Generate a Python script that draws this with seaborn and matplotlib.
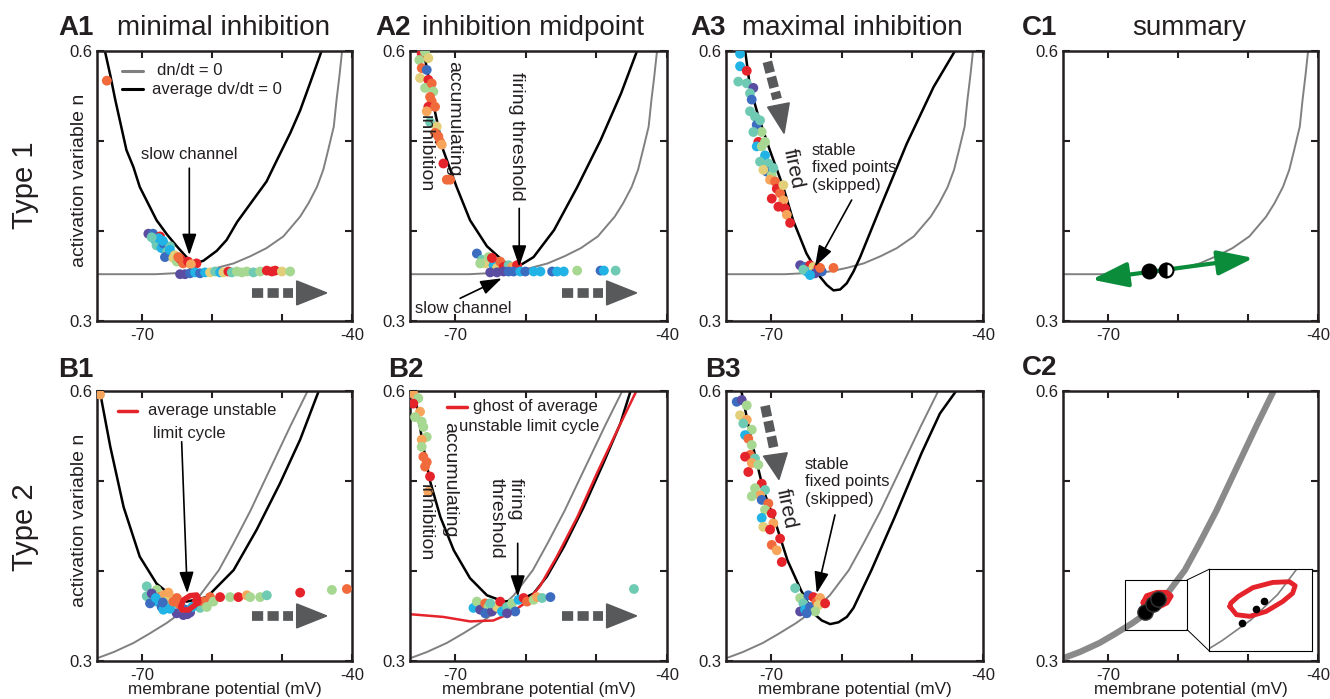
import numpy as np
import pandas as pd
import seaborn as sns
import matplotlib.pyplot as plt
from matplotlib.patches import Polygon, Rectangle, ConnectionPatch

sns.set_style('ticks')
plt.rcParams['font.family'] = ['Liberation Sans', 'DejaVu Sans']

TXT = '#231f20'
GREY = '#808080'
ARROW_GREY = '#58595b'
RED = '#e5232b'
GREEN = '#0b8c3b'

# colour classes of the trial dots (purple -> red)
pal = {0: '#5a4da1', 1: '#3c6cc0', 2: '#21b3e5', 3: '#6fcab3', 4: '#a6d891',
       5: '#e3cf7a', 6: '#f7a55b', 7: '#f06a3c', 8: '#e5232b'}

# ---- nullclines ----
# type 1 dn/dt = 0
gray1_v = [-76.4, -68.0, -63.0, -61.7, -59.3, -56.9, -54.5, -52.2, -49.8, -47.4, -46.2, -45.0,
           -44.1, -43.4, -42.6, -42.2, -41.8, -41.4]
gray1_n = [0.352, 0.352, 0.354, 0.355, 0.359, 0.364, 0.372, 0.381, 0.394, 0.416, 0.431, 0.449,
           0.468, 0.490, 0.516, 0.546, 0.572, 0.601]
# type 2 dn/dt = 0
gray2_v = [-76.4, -74.0, -71.2, -69.0, -66.5, -64.0, -61.7, -59.0, -56.9, -54.5, -52.2, -50.5, -48.8, -46.4]
gray2_n = [0.303, 0.310, 0.320, 0.330, 0.342, 0.356, 0.373, 0.401, 0.431, 0.467, 0.505, 0.533, 0.561, 0.599]

# average dv/dt = 0
black_a1_v = [-75.3, -74.5, -73.8, -72.2, -71.2, -70.3, -67.9, -66.4, -65.0, -63.4, -62.4, -61.2, -59.3,
              -57.9, -56.4, -52.2, -50.7, -48.8, -47.4, -46.0, -44.3]
black_a1_n = [0.601, 0.573, 0.546, 0.490, 0.471, 0.449, 0.412, 0.396, 0.383, 0.369, 0.364, 0.367, 0.378,
              0.390, 0.410, 0.455, 0.479, 0.509, 0.534, 0.564, 0.601]
black_a2_v = [-74.5, -72.9, -71.7, -69.8, -67.9, -65.5, -63.1, -61.2, -58.9, -56.0, -52.7, -49.4, -46.5, -44.2]
black_a2_n = [0.601, 0.534, 0.490, 0.449, 0.412, 0.383, 0.366, 0.360, 0.371, 0.401, 0.449, 0.501, 0.553, 0.601]
black_a3_v = [-73.7, -73.0, -71.8, -70.2, -68.3, -66.9, -65.0, -63.07, -62.12, -61.18, -60.23, -59.29,
              -58.34, -57.4, -54.5, -50.8, -47.0, -43.9]
black_a3_n = [0.601, 0.560, 0.527, 0.490, 0.449, 0.412, 0.375, 0.349, 0.340, 0.334, 0.335, 0.342,
              0.355, 0.371, 0.427, 0.497, 0.560, 0.601]
black_b1_v = [-76.0, -74.5, -72.6, -70.3, -67.9, -65.5, -63.6, -60.7, -56.9, -53.6, -50.3, -47.4, -44.8]
black_b1_n = [0.600, 0.538, 0.471, 0.416, 0.386, 0.371, 0.366, 0.371, 0.401, 0.446, 0.497, 0.546, 0.599]
black_b2_v = [-75.7, -74.7, -73.6, -72.1, -70.2, -67.9, -65.5, -63.1, -60.8, -58.9, -57.0, -54.6, -51.8, -49.0, -46.6, -45.2]
black_b2_n = [0.597, 0.546, 0.501, 0.460, 0.423, 0.392, 0.373, 0.366, 0.368, 0.375, 0.394, 0.427, 0.471, 0.520, 0.564, 0.599]
black_b3_v = [-74.2, -72.7, -71.1, -69.2, -67.7, -65.8, -64.02, -62.83, -61.65, -60.47, -59.28, -58.34,
              -55.8, -52.5, -48.7, -46.1, -43.9]
black_b3_n = [0.599, 0.542, 0.490, 0.449, 0.412, 0.379, 0.353, 0.345, 0.341, 0.343, 0.349, 0.359,
              0.401, 0.460, 0.531, 0.575, 0.599]

# ghost of the average unstable limit cycle (B2)
ghost_v = [-76.4, -71.7, -67.9, -64.6, -62.2, -59.8, -58.0, -55.6, -52.7, -49.9, -47.0, -44.4]
ghost_n = [0.352, 0.349, 0.344, 0.345, 0.353, 0.366, 0.383, 0.416, 0.460, 0.509, 0.557, 0.599]

# average unstable limit cycle (B1) and summary cycle (C2 main view and C2 inset)
cyc_b1_v = [-64.44, -64.07, -63.11, -62.16, -61.93, -62.40, -63.36, -64.30, -64.44]
cyc_b1_n = [0.3603, 0.3678, 0.3726, 0.3733, 0.3697, 0.3622, 0.3567, 0.3567, 0.3603]
cyc_c2_v = [-64.93, -64.44, -63.01, -61.59, -61.01, -61.59, -63.01, -64.21, -64.93]
cyc_c2_n = [0.3648, 0.3722, 0.3759, 0.3759, 0.3722, 0.3648, 0.3592, 0.3592, 0.3648]
cyc_ins_v = [-65.83, -65.26, -64.12, -62.70, -61.26, -60.41, -60.19, -60.69, -62.13, -63.84, -65.12, -65.75, -65.83]
cyc_ins_n = [0.3649, 0.3594, 0.3583, 0.3616, 0.3683, 0.3738, 0.3789, 0.3816, 0.3811, 0.3776, 0.3716, 0.3672, 0.3649]

# fixed points in the summaries
fp_c1_v = [-64.1, -61.7]
fp_c1_n = [0.356, 0.357]
fp_c2_v = [-64.75, -63.57, -62.87]
fp_c2_n = [0.354, 0.3635, 0.3687]
green_v = [-72.3, -49.2]
green_n = [0.346, 0.370]

# ---- trial dots ----
a1_v = [-75.0, -69.07, -68.4, -67.4, -68.1, -67.9, -67.2, -66.9, -66.4, -65.97, -66.7, -65.5, -65.0, -64.5,
        -64.1, -63.4, -62.2, -67.6, -65.97, -68.6, -67.0, -66.0, -65.3, -64.8, -63.0,
        -64.54, -63.83, -63.11, -62.4, -61.69, -60.97, -60.26, -59.54, -58.83, -58.36, -57.64, -57.16,
        -56.44, -55.73, -55.01, -54.07, -53.11, -52.16, -51.44, -50.97, -50.01, -48.83]
a1_n = [0.567, 0.397, 0.397, 0.394, 0.390, 0.384, 0.381, 0.386, 0.377, 0.375, 0.371, 0.370, 0.366, 0.369,
        0.364, 0.366, 0.364, 0.392, 0.383, 0.393, 0.389, 0.379, 0.373, 0.371, 0.363,
        0.352, 0.352, 0.353, 0.354, 0.353, 0.354, 0.354, 0.355, 0.354, 0.354, 0.355, 0.354,
        0.355, 0.354, 0.355, 0.354, 0.355, 0.356, 0.355, 0.356, 0.355, 0.355]
a1_c = [7, 0, 1, 8, 2, 3, 2, 1, 3, 8, 1, 5, 4, 8,
        7, 8, 8, 2, 3, 3, 2, 2, 5, 7, 6,
        0, 0, 1, 2, 1, 2, 5, 3, 2, 5, 8, 3,
        4, 4, 4, 3, 4, 8, 8, 8, 5, 4]

a2_v = [-74.74, -74.27, -75.08, -73.8, -74.74, -74.03, -74.98, -73.8, -74.27, -73.32, -73.09, -73.56, -73.32,
        -73.8, -72.85, -74.03, -73.56, -72.61, -72.85, -72.38, -72.14, -71.9, -71.67, -71.19, -70.72,
        -66.93, -66.22, -65.75, -65.28, -64.57, -64.08, -63.62, -63.15, -62.44, -61.95, -61.24, -66.46, -64.8,
        -65.04, -64.08, -63.15, -62.44, -61.73, -60.78, -60.07, -58.89, -57.93, -56.27, -55.56, -54.62,
        -52.72, -49.41, -48.94, -47.28]
a2_n = [0.597, 0.599, 0.590, 0.592, 0.581, 0.579, 0.570, 0.568, 0.559, 0.564, 0.555, 0.549, 0.544,
        0.538, 0.538, 0.533, 0.521, 0.516, 0.509, 0.505, 0.499, 0.496, 0.475, 0.457, 0.457,
        0.375, 0.368, 0.364, 0.371, 0.362, 0.359, 0.366, 0.360, 0.362, 0.360, 0.362, 0.364, 0.370,
        0.354, 0.354, 0.355, 0.355, 0.355, 0.355, 0.355, 0.355, 0.355, 0.355, 0.355, 0.355,
        0.356, 0.356, 0.356, 0.356]
a2_c = [8, 4, 4, 5, 7, 1, 5, 8, 4, 7, 4, 7, 7,
        8, 7, 6, 3, 5, 7, 7, 7, 6, 8, 7, 7,
        1, 3, 5, 4, 2, 5, 7, 8, 3, 6, 8, 4, 8,
        0, 0, 0, 1, 1, 2, 1, 2, 2, 1, 2, 2,
        4, 1, 2, 3]

a3_v = [-74.41, -74.41, -73.46, -74.66, -73.46, -72.53, -73.0, -72.76, -73.0, -72.29, -72.05, -71.58,
        -71.34, -72.53, -71.82, -70.87, -72.05, -71.34, -70.87, -71.58, -70.4, -70.63, -71.11, -69.92,
        -69.69, -70.16, -69.45, -69.21, -68.74, -69.92, -68.27, -68.98, -68.03, -67.79, -67.32, -68.27,
        -65.9, -65.19, -64.49, -64.96, -65.44, -64.02, -63.31, -62.83, -63.78, -64.49, -61.18, -63.07]
a3_n = [0.597, 0.583, 0.578, 0.566, 0.564, 0.559, 0.553, 0.546, 0.533, 0.527, 0.518, 0.523,
        0.510, 0.510, 0.499, 0.499, 0.494, 0.494, 0.484, 0.477, 0.475, 0.466, 0.468, 0.462,
        0.470, 0.457, 0.455, 0.447, 0.442, 0.436, 0.434, 0.427, 0.425, 0.418, 0.409, 0.451,
        0.362, 0.360, 0.362, 0.355, 0.357, 0.360, 0.359, 0.355, 0.353, 0.351, 0.359, 0.359]
a3_c = [2, 2, 8, 3, 3, 0, 3, 1, 3, 3, 1, 3,
        4, 3, 8, 4, 2, 4, 2, 3, 3, 1, 5, 4,
        3, 6, 7, 8, 7, 8, 6, 8, 8, 6, 8, 5,
        0, 1, 8, 2, 3, 5, 8, 1, 0, 2, 7, 7]

b1_v = [-69.3, -67.87, -69.3, -68.59, -67.4, -66.93, -66.44, -67.87, -68.83, -67.17,
        -65.97, -65.73, -66.93, -65.03, -64.07, -63.11, -64.31, -61.69, -61.21, -60.26,
        -59.79, -58.83, -57.4, -56.21, -55.01, -54.54, -53.11, -52.16, -47.4, -42.87,
        -40.73, -75.97, -60.73, -62.16,
        -68.0, -67.0, -66.0, -65.5, -64.6, -63.8, -62.8, -66.2, -65.0, -63.5]
b1_n = [0.383, 0.379, 0.372, 0.375, 0.371, 0.373, 0.366, 0.366, 0.364, 0.360,
        0.371, 0.362, 0.357, 0.353, 0.351, 0.354, 0.359, 0.359, 0.366, 0.371,
        0.366, 0.371, 0.371, 0.371, 0.373, 0.371, 0.371, 0.373, 0.376, 0.379,
        0.380, 0.596, 0.360, 0.366,
        0.370, 0.365, 0.358, 0.366, 0.363, 0.357, 0.360, 0.376, 0.370, 0.352]
b1_c = [3, 4, 3, 0, 7, 6, 4, 2, 1, 1,
        5, 3, 2, 0, 0, 0, 1, 3, 7, 7,
        4, 8, 4, 8, 6, 4, 4, 3, 8, 4,
        7, 6, 4, 8,
        2, 1, 2, 7, 7, 1, 2, 6, 7, 0]

b2_v = [-75.93, -75.22, -75.93, -74.98, -75.69, -74.74, -74.51, -74.03, -74.74, -74.74, -74.51, -74.03,
        -74.27, -73.56, -73.8,
        -67.41, -66.93, -66.46, -65.75, -65.28, -65.75, -64.8, -64.08, -63.62, -63.38, -62.66, -61.95,
        -61.49, -61.02, -60.31, -59.82, -58.89, -58.4, -57.69, -56.51, -44.68, -62.66, -65.04]
b2_n = [0.597, 0.592, 0.586, 0.577, 0.571, 0.566, 0.560, 0.549, 0.546, 0.538, 0.527, 0.521,
        0.516, 0.505, 0.488,
        0.359, 0.366, 0.357, 0.364, 0.360, 0.353, 0.355, 0.360, 0.366, 0.355, 0.360, 0.364,
        0.355, 0.368, 0.370, 0.366, 0.368, 0.371, 0.370, 0.371, 0.380, 0.353, 0.364]
b2_c = [6, 4, 8, 6, 4, 4, 4, 4, 6, 4, 7, 7,
        7, 8, 6,
        2, 4, 0, 7, 4, 1, 0, 5, 8, 2, 3, 4,
        1, 2, 8, 7, 4, 6, 3, 1, 3, 0, 3]

b3_v = [-74.88, -74.17, -73.46, -74.41, -73.46, -73.95, -72.75, -73.7, -73.24, -72.75, -72.99,
        -73.7, -72.29, -72.75, -71.82, -73.24, -71.34, -72.29, -70.87, -71.58, -72.75, -71.34,
        -70.4, -70.87, -69.92, -71.34, -69.69, -71.11, -70.16, -68.74, -69.92, -69.21, -68.5,
        -66.61, -65.9, -65.44, -64.73, -65.9, -65.19, -64.49, -64.02, -63.54, -63.07, -63.31,
        -62.36, -63.78, -64.96]
b3_n = [0.588, 0.590, 0.584, 0.573, 0.568, 0.564, 0.557, 0.551, 0.547, 0.540, 0.529,
        0.527, 0.525, 0.520, 0.518, 0.510, 0.497, 0.492, 0.490, 0.484, 0.483, 0.479,
        0.475, 0.468, 0.464, 0.459, 0.453, 0.449, 0.446, 0.436, 0.429, 0.423, 0.410,
        0.381, 0.370, 0.364, 0.373, 0.355, 0.357, 0.360, 0.371, 0.366, 0.370, 0.362,
        0.364, 0.355, 0.353]
b3_c = [1, 0, 4, 5, 6, 3, 4, 2, 7, 4, 7,
        8, 3, 6, 4, 8, 8, 4, 3, 6, 4, 1,
        7, 4, 8, 2, 6, 5, 8, 8, 7, 6, 8,
        3, 4, 3, 1, 0, 2, 1, 8, 7, 6, 5,
        8, 4, 1]


def style_axes(ax):
    ax.set_xlim(-76.4, -40)
    ax.set_ylim(0.3, 0.6)
    ax.set_xticks([-70, -60, -50, -40])
    ax.set_xticklabels(['-70', '', '', '-40'])
    ax.set_yticks([0.3, 0.4, 0.5, 0.6])
    ax.set_yticklabels(['0.3', '', '', '0.6'])
    ax.tick_params(direction='in', top=True, right=True, length=5, width=1.5,
                   labelsize=12, pad=3, colors=TXT)
    ax.tick_params(axis='x', pad=5)
    for s in ax.spines.values():
        s.set_linewidth(1.8)
        s.set_color(TXT)
    ax.set_xlabel('')
    ax.set_ylabel('')


def curve(ax, v, n, color, lw, z=2):
    sns.lineplot(x=v, y=n, sort=False, estimator=None, color=color, lw=lw, ax=ax, zorder=z)


def dots(ax, v, n, c):
    df = pd.DataFrame({'v': v, 'n': n, 'c': c})
    sns.scatterplot(data=df, x='v', y='n', hue='c', palette=pal, s=50, linewidth=0,
                    legend=False, ax=ax, zorder=3)


def dash_arrow(ax, tail, dash_end, base, tip, hw=12, w=256, h=270):
    ax.plot([tail[0], dash_end[0]], [tail[1], dash_end[1]], transform=ax.transAxes,
            color=ARROW_GREY, lw=7, linestyle=(0, (1.15, 0.45)), solid_capstyle='butt', zorder=5)
    dx = (tip[0] - base[0]) * w
    dy = (tip[1] - base[1]) * h
    L = np.hypot(dx, dy)
    px, py = -dy / L, dx / L
    p1 = (base[0] + px * hw / w, base[1] + py * hw / h)
    p2 = (base[0] - px * hw / w, base[1] - py * hw / h)
    ax.add_patch(Polygon([p1, tip, p2], closed=True, transform=ax.transAxes,
                         color=ARROW_GREY, zorder=5, clip_on=False))


def pointer(ax, start, tip):
    ax.annotate('', xy=tip, xytext=start, xycoords='axes fraction', textcoords='axes fraction',
                arrowprops=dict(arrowstyle='-|>,head_length=0.65,head_width=0.22', mutation_scale=20,
                                color='black', lw=1.2, shrinkA=0, shrinkB=0), zorder=7)


def note(ax, x, y, s, **kw):
    kw.setdefault('fontsize', 12)
    ax.text(x, y, s, transform=ax.transAxes, color=TXT, **kw)


def panel_label(ax, lab, title, xl, xt, y, ha='left'):
    ax.text(xl, y, lab, transform=ax.transAxes, fontsize=20, fontweight='bold', color=TXT,
            ha='left', va='baseline')
    if title:
        ax.text(xt, y, title, transform=ax.transAxes, fontsize=20, color=TXT, ha=ha, va='baseline')


fig = plt.figure(figsize=(13.3, 6.99), dpi=100)
cols_px = [(97, 352), (410, 667), (726, 983), (1063, 1318)]
rows_px = [(51, 321), (391, 661)]
axes = {}
for r, (t, b) in enumerate(rows_px):
    for c, (l, rr) in enumerate(cols_px):
        axes[(r, c)] = fig.add_axes([l / 1330, 1 - b / 699, (rr - l) / 1330, (b - t) / 699])

# ---------------- A1 ----------------
ax = axes[(0, 0)]
curve(ax, gray1_v, gray1_n, GREY, 1.4)
curve(ax, black_a1_v, black_a1_n, 'black', 1.8)
dots(ax, a1_v, a1_n, a1_c)
style_axes(ax)
ax.plot([0.097, 0.181], [0.926, 0.926], transform=ax.transAxes, color=GREY, lw=2.2)
ax.plot([0.097, 0.181], [0.859, 0.859], transform=ax.transAxes, color='black', lw=2.2)
note(ax, 0.235, 0.926, 'dn/dt = 0', va='center')
note(ax, 0.216, 0.859, 'average dv/dt = 0', va='center')
note(ax, 0.361, 0.615, 'slow channel', ha='center', va='center')
pointer(ax, (0.362, 0.566), (0.362, 0.244))
dash_arrow(ax, (0.608, 0.104), (0.770, 0.104), (0.783, 0.104), (0.901, 0.104))
panel_label(ax, 'A1', 'minimal inhibition', -0.153, 0.078, 1.059)
ax.set_ylabel('activation variable n', fontsize=14, color=TXT)
ax.yaxis.set_label_coords(-0.035, 0.52)

# ---------------- A2 ----------------
ax = axes[(0, 1)]
curve(ax, gray1_v, gray1_n, GREY, 1.4)
curve(ax, black_a2_v, black_a2_n, 'black', 1.8)
dots(ax, a2_v, a2_n, a2_c)
style_axes(ax)
note(ax, 0.168, 0.748, 'accumulating', rotation=-90, ha='center', va='center', fontsize=14)
note(ax, 0.058, 0.619, 'inhibition', rotation=-90, ha='center', va='center', fontsize=14)
note(ax, 0.415, 0.684, 'firing threshold', rotation=-90, ha='center', va='center', fontsize=14)
pointer(ax, (0.425, 0.417), (0.425, 0.201))
note(ax, 0.207, 0.047, 'slow channel', ha='center', va='center')
pointer(ax, (0.195, 0.084), (0.357, 0.158))
dash_arrow(ax, (0.590, 0.104), (0.752, 0.104), (0.765, 0.104), (0.882, 0.104))
panel_label(ax, 'A2', 'inhibition midpoint', -0.136, 0.046, 1.059)

# ---------------- A3 ----------------
ax = axes[(0, 2)]
curve(ax, gray1_v, gray1_n, GREY, 1.4)
curve(ax, black_a3_v, black_a3_n, 'black', 1.8)
dots(ax, a3_v, a3_n, a3_c)
style_axes(ax)
dash_arrow(ax, (0.161, 0.96), (0.199, 0.822), (0.204, 0.80), (0.226, 0.695), hw=11)
note(ax, 0.262, 0.563, 'fired', rotation=-78, ha='center', va='center', fontsize=15,
     rotation_mode='anchor')
note(ax, 0.334, 0.567, 'stable\nfixed points\n(skipped)', ha='left', va='center')
pointer(ax, (0.489, 0.448), (0.346, 0.201))
panel_label(ax, 'A3', 'maximal inhibition', -0.140, 0.061, 1.059)

# ---------------- C1 ----------------
ax = axes[(0, 3)]
curve(ax, gray1_v, gray1_n, GREY, 1.4)
style_axes(ax)
ax.annotate('', xy=(green_v[1], green_n[1]), xytext=(green_v[0], green_n[0]),
            arrowprops=dict(arrowstyle='<|-|>,head_length=1.1,head_width=0.38', mutation_scale=20,
                            color=GREEN, lw=3.0, shrinkA=0, shrinkB=0), zorder=4)
ax.plot(fp_c1_v[0], fp_c1_n[0], 'o', color='black', markersize=10, mec='black', mew=1.5, zorder=6)
ax.plot(fp_c1_v[1], fp_c1_n[1], 'o', fillstyle='left', markerfacecolor='black',
        markerfacecoloralt='white', mec='black', markersize=10, mew=1.5, zorder=6)
panel_label(ax, 'C1', None, -0.162, 0.0, 1.059)
ax.text(0.494, 1.059, 'summary', transform=ax.transAxes, fontsize=20, color=TXT,
        ha='center', va='baseline')

# ---------------- B1 ----------------
ax = axes[(1, 0)]
curve(ax, gray2_v, gray2_n, GREY, 1.4)
curve(ax, black_b1_v, black_b1_n, 'black', 1.8)
dots(ax, b1_v, b1_n, b1_c)
curve(ax, cyc_b1_v, cyc_b1_n, RED, 4.0, z=4)
style_axes(ax)
ax.plot([0.082, 0.157], [0.926, 0.926], transform=ax.transAxes, color=RED, lw=2.5)
note(ax, 0.201, 0.926, 'average unstable', va='center')
note(ax, 0.218, 0.843, 'limit cycle', va='center')
pointer(ax, (0.332, 0.812), (0.354, 0.251))
dash_arrow(ax, (0.608, 0.167), (0.770, 0.167), (0.783, 0.167), (0.901, 0.167))
panel_label(ax, 'B1', None, -0.153, 0.0, 1.053)
ax.set_ylabel('activation variable n', fontsize=14, color=TXT)
ax.yaxis.set_label_coords(-0.035, 0.52)

# ---------------- B2 ----------------
ax = axes[(1, 1)]
curve(ax, gray2_v, gray2_n, GREY, 1.4)
curve(ax, black_b2_v, black_b2_n, 'black', 1.8)
curve(ax, ghost_v, ghost_n, RED, 1.8)
dots(ax, b2_v, b2_n, b2_c)
style_axes(ax)
ax.plot([0.145, 0.220], [0.942, 0.942], transform=ax.transAxes, color=RED, lw=2.5)
note(ax, 0.246, 0.942, 'ghost of average', va='center')
note(ax, 0.192, 0.868, 'unstable limit cycle', va='center')
note(ax, 0.156, 0.670, 'accumulating', rotation=-90, ha='center', va='center', fontsize=14)
note(ax, 0.058, 0.511, 'inhibition', rotation=-90, ha='center', va='center', fontsize=14)
note(ax, 0.373, 0.677, 'firing\nthreshold', rotation=-90, ha='left', va='center', fontsize=14,
     rotation_mode='anchor', multialignment='left')
pointer(ax, (0.419, 0.436), (0.419, 0.238))
dash_arrow(ax, (0.590, 0.167), (0.752, 0.167), (0.765, 0.167), (0.882, 0.167))
panel_label(ax, 'B2', None, -0.084, 0.0, 1.053)

# ---------------- B3 ----------------
ax = axes[(1, 2)]
curve(ax, gray2_v, gray2_n, GREY, 1.4)
curve(ax, black_b3_v, black_b3_n, 'black', 1.8)
dots(ax, b3_v, b3_n, b3_c)
style_axes(ax)
dash_arrow(ax, (0.152, 0.945), (0.187, 0.783), (0.192, 0.765), (0.206, 0.672))
note(ax, 0.236, 0.566, 'fired', rotation=-78, ha='center', va='center', fontsize=15,
     rotation_mode='anchor')
note(ax, 0.307, 0.664, 'stable\nfixed points\n(skipped)', ha='left', va='center')
pointer(ax, (0.424, 0.541), (0.353, 0.251))
panel_label(ax, 'B3', None, -0.082, 0.0, 1.053)

# ---------------- C2 ----------------
ax = axes[(1, 3)]
curve(ax, gray2_v, gray2_n, '#8a8a8a', 4.5)
curve(ax, cyc_c2_v, cyc_c2_n, RED, 4.0, z=4)
ax.plot(fp_c2_v, fp_c2_n, 'o', color='black', markersize=11, mec='#333333', lw=0, zorder=5)
style_axes(ax)
box = (-67.6, 0.335, 8.9, 0.055)
ax.add_patch(Rectangle(box[:2], box[2], box[3], fill=False, ec='black', lw=0.8, zorder=6))
axins = ax.inset_axes([0.574, 0.037, 0.404, 0.303])
curve(axins, gray2_v, gray2_n, GREY, 1.2)
curve(axins, cyc_ins_v, cyc_ins_n, RED, 3.5, z=4)
axins.plot(fp_c2_v, fp_c2_n, 'o', color='black', markersize=4.5, lw=0, zorder=5)
axins.set_xlim(box[0], box[0] + box[2])
axins.set_ylim(box[1], box[1] + box[3])
axins.set_xticks([])
axins.set_yticks([])
axins.set_xlabel('')
axins.set_ylabel('')
for s in axins.spines.values():
    s.set_linewidth(0.8)
    s.set_color('black')
for yd, yf in [(box[1] + box[3], 1.0), (box[1], 0.0)]:
    con = ConnectionPatch(xyA=(box[0] + box[2], yd), coordsA=ax.transData,
                          xyB=(0.0, yf), coordsB=axins.transAxes, color='black', lw=0.7)
    fig.add_artist(con)
panel_label(ax, 'C2', None, -0.162, 0.0, 1.061)

# row labels and x labels
fig.text(0.0188, 0.735, 'Type 1', rotation=90, fontsize=21, color=TXT, ha='center', va='center')
fig.text(0.0188, 0.246, 'Type 2', rotation=90, fontsize=21, color=TXT, ha='center', va='center')
for c in range(4):
    a = axes[(1, c)]
    a.set_xlabel('membrane potential (mV)', fontsize=12.3, color=TXT)
    a.xaxis.set_label_coords(0.5, -0.076)

fig.savefig('out.png', dpi=100)
